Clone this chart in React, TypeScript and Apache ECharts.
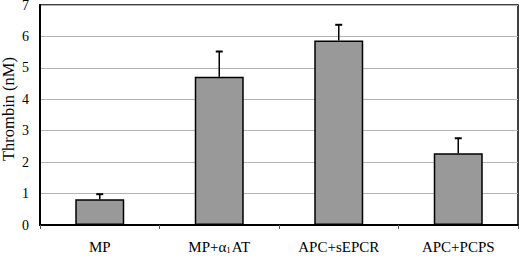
import React, { useEffect, useRef } from "react";
import * as echarts from "echarts";

const categories = ["MP", "MP+α1AT", "APC+sEPCR", "APC+PCPS"];
const means = [0.82, 4.72, 5.87, 2.28];
const errorTops = [0.98, 5.52, 6.37, 2.76];
const yTicks = [0, 7, 1];

const FONT = "Liberation Serif";

export default function App() {
  const ref = useRef<HTMLDivElement>(null);
  useEffect(() => {
    if (!ref.current) return;
    const chart = echarts.init(ref.current, null, { renderer: "svg" });
    chart.setOption({
      animation: false,
      backgroundColor: "#fff",
      textStyle: { fontFamily: FONT },
      grid: {
        left: 40,
        right: 2,
        top: 5,
        bottom: 35,
        containLabel: false,
        outerBoundsMode: "none",
        show: true,
        borderColor: "#000",
        borderWidth: 1.5,
        backgroundColor: "transparent",
      },
      xAxis: {
        type: "category",
        data: categories,
        axisLine: { show: true, lineStyle: { color: "#000", width: 2 } },
        axisTick: { show: true, length: 4, lineStyle: { color: "#555", width: 1 } },
        axisLabel: {
          interval: 0,
          margin: 12,
          color: "#000",
          fontFamily: FONT,
          fontSize: 15,
          formatter: (v: string) =>
            v === "MP+α1AT" ? "{a|MP+α}{s|1}{a|AT}" : "{a|" + v + "}",
          rich: {
            a: { fontFamily: FONT, fontSize: 15, color: "#000", verticalAlign: "bottom", lineHeight: 17 },
            s: { fontFamily: FONT, fontSize: 9, color: "#000", verticalAlign: "bottom", lineHeight: 11, padding: [0, 1, 0, 0] },
          },
        },
        splitLine: { show: false },
      },
      yAxis: {
        type: "value",
        min: yTicks[0],
        max: yTicks[1],
        interval: yTicks[2],
        name: "Thrombin (nM)",
        nameLocation: "middle",
        nameRotate: 90,
        nameGap: 23,
        nameMoveOverlap: false,
        nameTextStyle: { fontFamily: FONT, fontSize: 16.5, color: "#000", padding: [0, 0, 0, 12] },
        axisLine: { show: true, lineStyle: { color: "#000", width: 2 } },
        axisTick: { show: false },
        axisLabel: { margin: 11, color: "#000", fontFamily: FONT, fontSize: 14 },
        splitLine: { show: true, lineStyle: { color: "#b4b4b4", width: 1 } },
      },
      series: [
        {
          type: "bar",
          data: means,
          barWidth: "41%",
          itemStyle: { color: "#999999", borderColor: "#000", borderWidth: 1.5 },
          z: 2,
        },
        {
          type: "custom",
          z: 3,
          data: categories.map((_, i) => [i, means[i], errorTops[i]]),
          renderItem: (params: any, api: any) => {
            const base = api.coord([api.value(0), api.value(1)]);
            const top = api.coord([api.value(0), api.value(2)]);
            const x = base[0];
            return {
              type: "group",
              children: [
                {
                  type: "line",
                  shape: { x1: x, y1: base[1], x2: x, y2: top[1] },
                  style: { stroke: "#000", lineWidth: 1.5 },
                },
                {
                  type: "line",
                  shape: { x1: x - 3.5, y1: top[1], x2: x + 3.5, y2: top[1] },
                  style: { stroke: "#000", lineWidth: 2 },
                },
              ],
            };
          },
        },
      ],
    });
    return () => chart.dispose();
  }, []);
  return <div ref={ref} style={{ width: 520, height: 260, position: "absolute", left: 0, top: 0 }} />;
}
